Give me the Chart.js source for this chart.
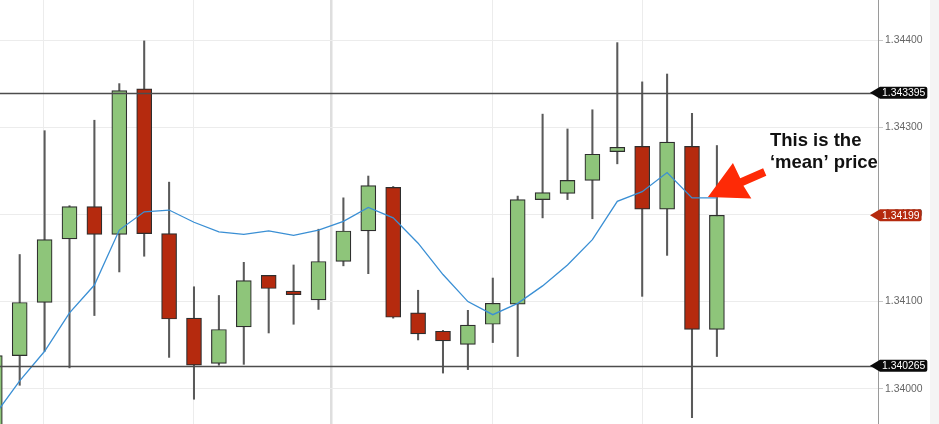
<!DOCTYPE html>
<html><head><meta charset="utf-8">
<script src="https://cdn.jsdelivr.net/npm/chart.js@4.4.1/dist/chart.umd.min.js"></script>
<style>html,body{margin:0;padding:0;background:#fff;}#wrap{width:939px;height:424px;position:relative;}</style>
</head><body><div id="wrap"><canvas id="c"></canvas></div>
<script>
// ---- data ----
const candleIdx = [0,1,2,3,4,5,6,7,8,9,10,11,12,13,14,15,16,17,18,19,20,21,22,23,24,25,26,27,28,29];
const opens  = [1.33955,1.34038,1.34099,1.34172,1.34209,1.34177,1.34344,1.34178,1.34081,1.34029,1.34071,1.34130,1.34112,1.34102,1.34146,1.34181,1.34231,1.34087,1.34066,1.34051,1.34074,1.34097,1.34217,1.34224,1.34239,1.34272,1.34278,1.34206,1.34278,1.34068];
const highs  = [1.34040,1.34154,1.34296,1.34210,1.34308,1.34350,1.34399,1.34237,1.34117,1.34107,1.34145,1.34130,1.34142,1.34183,1.34219,1.34244,1.34232,1.34113,1.34067,1.34090,1.34127,1.34221,1.34315,1.34298,1.34320,1.34397,1.34352,1.34361,1.34316,1.34279];
const lows   = [1.33940,1.34004,1.34043,1.34024,1.34084,1.34134,1.34152,1.34036,1.33988,1.34027,1.34028,1.34064,1.34074,1.34091,1.34141,1.34132,1.34081,1.34056,1.34018,1.34022,1.34053,1.34037,1.34196,1.34217,1.34195,1.34258,1.34106,1.34153,1.33967,1.34037];
const closes = [1.34038,1.34099,1.34171,1.34209,1.34177,1.34342,1.34178,1.34080,1.34027,1.34068,1.34124,1.34115,1.34108,1.34146,1.34181,1.34233,1.34082,1.34063,1.34055,1.34073,1.34098,1.34217,1.34225,1.34239,1.34269,1.34277,1.34206,1.34283,1.34068,1.34199];
const meanPrice = [1.33970,1.34009,1.34043,1.34087,1.34119,1.34182,1.34203,1.34205,1.34191,1.34180,1.34177,1.34181,1.34176,1.34182,1.34192,1.34208,1.34196,1.34167,1.34131,1.34100,1.34085,1.34098,1.34118,1.34142,1.34171,1.34215,1.34226,1.34248,1.34219,1.34219];
const levelLines = [1.343395, 1.340265];
const yTicks = [1.340, 1.341, 1.342, 1.343, 1.344];
const dayBreaks = [1.95, 7.96, 13.5, 19.98, 26.02];
const weekBreak = 13.5;
const annotationLines = ['This is the', '\u2018mean\u2019 price'];
const arrowTip = {x: 28.64, y: 1.34220};
const annotationAnchor = {x: 31.13, y: 1.34278};

// ---- styles ----
const GREEN = '#8ec57a', RED = '#b52a0e', BORDER = '#2e2e2e', WICK = '#5a5a5a';
const FONT = '"Liberation Sans", Arial, sans-serif';

const isUp = i => closes[i] >= opens[i];

const bodies = candleIdx.map(i => ({x: i, y: [opens[i], closes[i]]}));
const wicks  = candleIdx.map(i => ({x: i, y: [lows[i], highs[i]]}));
const meanPts = candleIdx.map(i => ({x: i, y: meanPrice[i]}));

const decorPlugin = {
  id: 'decor',
  beforeDraw(chart) {
    const ctx = chart.ctx;
    ctx.save();
    ctx.fillStyle = '#f4f4f4';
    ctx.fillRect(930, 0, chart.width - 930, chart.height);
    ctx.restore();
  },
  afterDatasetsDraw(chart) {
    const ctx = chart.ctx, y = chart.scales.y, a = chart.chartArea;
    ctx.save();
    ctx.strokeStyle = '#4d4d4d';
    ctx.lineWidth = 1.5;
    levelLines.forEach(v => {
      const py = Math.round(y.getPixelForValue(v)) + 0.5;
      ctx.beginPath(); ctx.moveTo(a.left, py); ctx.lineTo(a.right, py); ctx.stroke();
    });
    ctx.restore();
  },
  afterDraw(chart) {
    const ctx = chart.ctx, xs = chart.scales.x, ys = chart.scales.y, a = chart.chartArea;
    ctx.save();
    // price tags
    const tag = (v, text, color) => {
      const py = ys.getPixelForValue(v);
      ctx.font = '10.4px ' + FONT;
      const w = ctx.measureText(text).width;
      const bl = a.right + 2, br = bl + w + 4, h = 12, r = 2;
      ctx.fillStyle = color;
      ctx.beginPath();
      ctx.moveTo(a.right - 8, py);
      ctx.lineTo(bl, py - h / 2);
      ctx.lineTo(br - r, py - h / 2);
      ctx.quadraticCurveTo(br, py - h / 2, br, py - h / 2 + r);
      ctx.lineTo(br, py + h / 2 - r);
      ctx.quadraticCurveTo(br, py + h / 2, br - r, py + h / 2);
      ctx.lineTo(bl, py + h / 2);
      ctx.closePath();
      ctx.fill();
      ctx.fillStyle = '#fff';
      ctx.textBaseline = 'middle';
      ctx.textAlign = 'left';
      ctx.fillText(text, bl + 2, py + 0.5);
    };
    levelLines.forEach(v => tag(v, v.toFixed(6), '#0a0a0a'));
    const last = closes[closes.length - 1];
    tag(last, last.toFixed(5), RED);

    // arrow
    const tx = xs.getPixelForValue(arrowTip.x), ty = ys.getPixelForValue(arrowTip.y);
    const pts = [[0,0],[25,-34],[32.3,-18.6],[55.2,-28.6],[58.4,-21.2],[35.5,-11.2],[43.4,1.6]];
    ctx.fillStyle = '#fe2a06';
    ctx.beginPath();
    pts.forEach((p, k) => k ? ctx.lineTo(tx + p[0], ty + p[1]) : ctx.moveTo(tx + p[0], ty + p[1]));
    ctx.closePath();
    ctx.fill();

    // text
    const ax = xs.getPixelForValue(annotationAnchor.x), ay = ys.getPixelForValue(annotationAnchor.y);
    ctx.fillStyle = '#111';
    ctx.font = 'bold 18.5px ' + FONT;
    ctx.textBaseline = 'alphabetic';
    ctx.textAlign = 'left';
    annotationLines.forEach((t, k) => ctx.fillText(t, ax, ay + k * 21.3));
    ctx.restore();
  }
};

new Chart(document.getElementById('c'), {
  type: 'bar',
  data: {
    datasets: [
      {
        type: 'line', data: meanPts, borderColor: '#3a8fd4', borderWidth: 1.3,
        pointRadius: 0, tension: 0, fill: false, order: 0, clip: 0
      },
      {
        type: 'bar', data: bodies, grouped: false, barThickness: 15, order: 1,
        backgroundColor: ctx => isUp(ctx.dataIndex) ? GREEN : RED,
        borderColor: BORDER, borderWidth: 1.2, borderSkipped: false, clip: 0
      },
      {
        type: 'bar', data: wicks, grouped: false, barThickness: 1.4, order: 2,
        backgroundColor: WICK, borderWidth: 0, clip: 0
      }
    ]
  },
  options: {
    responsive: true, maintainAspectRatio: false, animation: false,
    layout: {padding: 0},
    plugins: {legend: {display: false}, tooltip: {enabled: false}},
    scales: {
      x: {
        type: 'linear', min: 0.209, max: 35.47, offset: false,
        afterBuildTicks: s => { s.ticks = dayBreaks.map(v => ({value: v})); },
        afterFit: s => { s.height = 0; s.paddingLeft = 0; s.paddingRight = 0; },
        ticks: {display: false},
        border: {display: false},
        grid: {
          offset: false, drawTicks: false,
          color: c => c.tick && c.tick.value === weekBreak ? '#dedede' : '#ececec',
          lineWidth: c => c.tick && c.tick.value === weekBreak ? 2.5 : 1
        }
      },
      y: {
        type: 'linear', position: 'right', min: 1.339596, max: 1.344459,
        afterBuildTicks: s => { s.ticks = yTicks.map(v => ({value: v})); },
        afterFit: s => { s.width = 61; s.paddingTop = 0; s.paddingBottom = 0; },
        border: {display: true, color: '#9a9a9a', width: 1},
        grid: {color: '#ececec', lineWidth: 1, tickLength: 5, tickColor: '#c8c8c8'},
        ticks: {
          padding: 2, color: '#666',
          font: {family: FONT, size: 10.4},
          callback: v => v.toFixed(5)
        }
      }
    }
  },
  plugins: [decorPlugin]
});
</script>
</body></html>
